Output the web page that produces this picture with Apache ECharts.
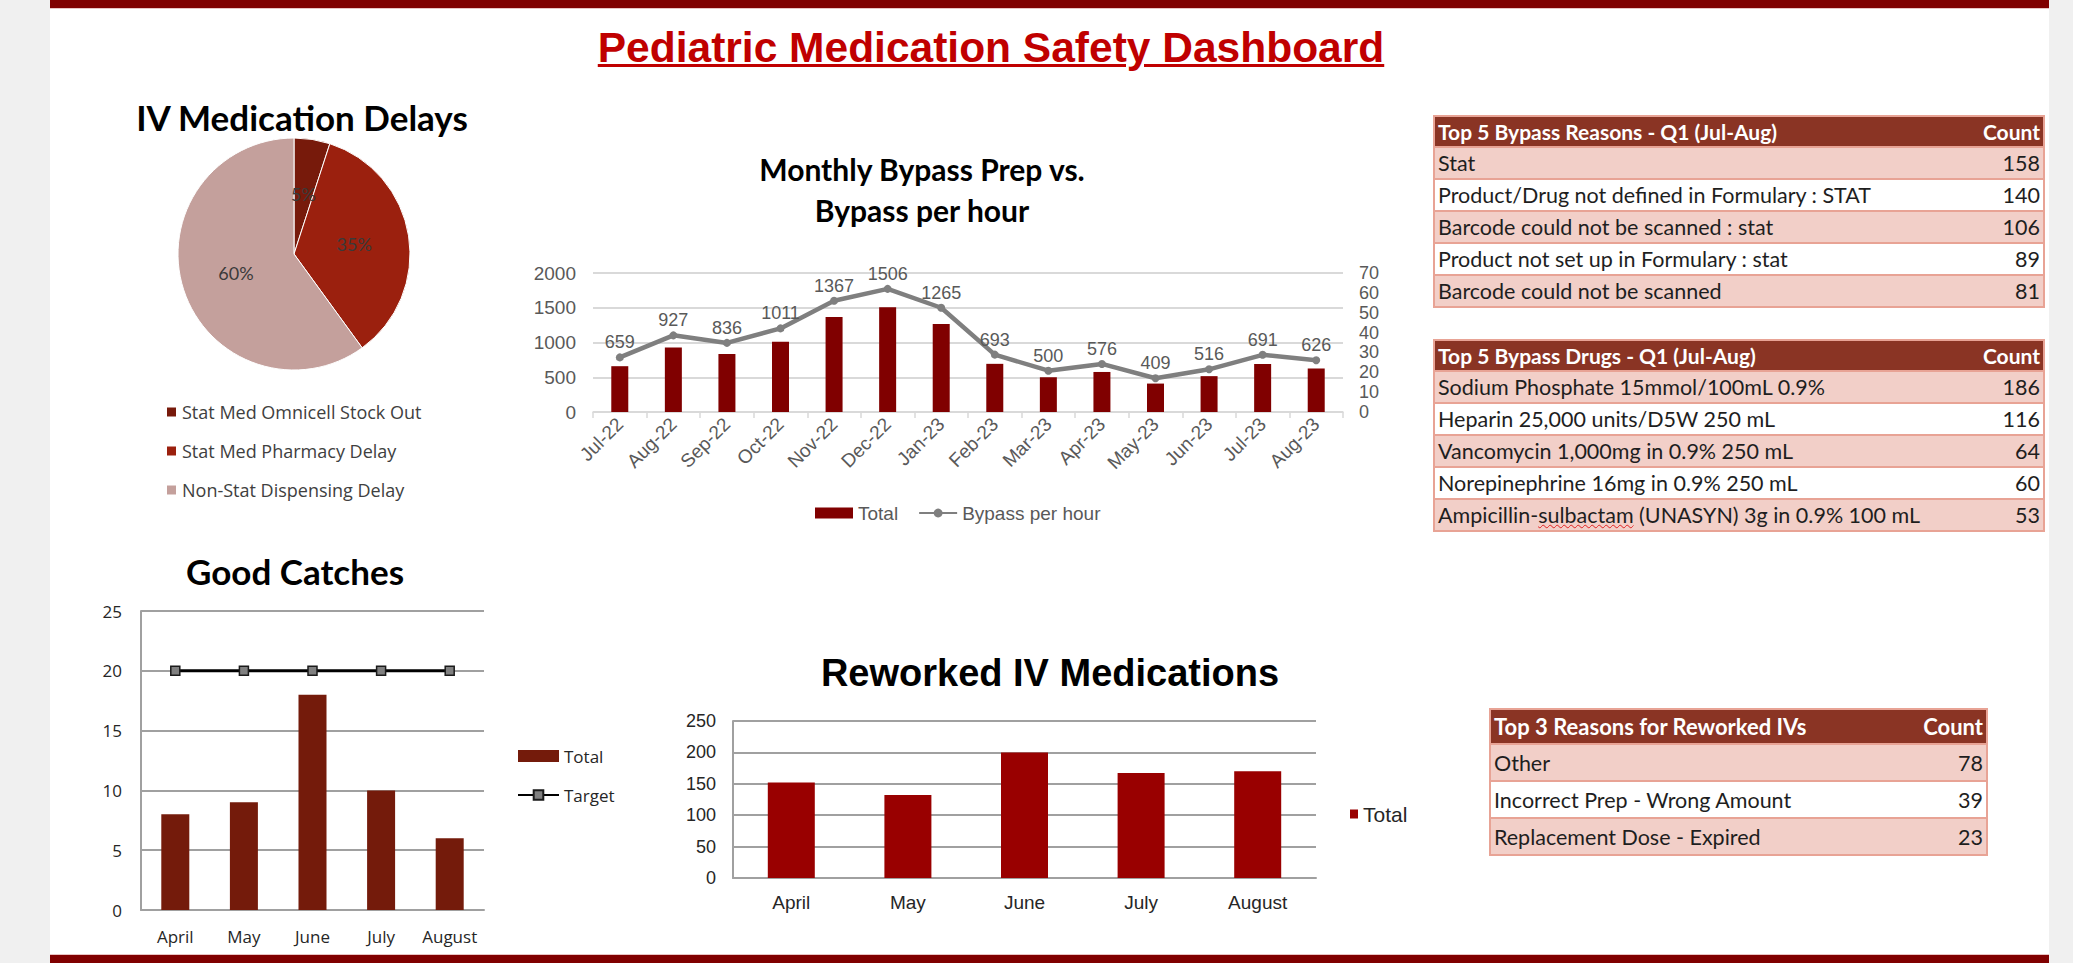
<!DOCTYPE html>
<html>
<head>
<meta charset="utf-8">
<title>Pediatric Medication Safety Dashboard</title>
<script src="https://cdn.jsdelivr.net/npm/echarts@6/dist/echarts.min.js"></script>
<style>
    html, body { margin: 0; padding: 0; }
    body {
        width: 2073px; height: 963px; overflow: hidden; position: relative;
        background: #f0f0f0; font-family: Lato, sans-serif;
    }
    .page { position: absolute; left: 50px; top: 0; width: 1999px; height: 963px; background: #fff; }
    .band { position: absolute; left: 50px; width: 1999px; height: 8px; background: #800000; }
    .band-top { top: 0; box-shadow: 0 1px 0 #e9c3c3; }
    .band-bottom { top: 955px; box-shadow: 0 -1px 0 #e9c3c3; }
    #chart { position: absolute; left: 0; top: 0; width: 2073px; height: 963px; }
    .main-title {
        position: absolute; left: 491px; top: 27px; width: 1000px; text-align: center;
        font: bold 42.5px 'Liberation Sans', Arial, sans-serif; line-height: 42px; color: #c00000;
        text-decoration: underline; text-decoration-thickness: 3px; text-underline-offset: 2px;
    }
    .tbl {
        position: absolute; border-collapse: collapse; table-layout: fixed;
        font-family: Lato, sans-serif; font-size: 21.5px; color: #1e1e1e;
        border: 2px solid #e8a395;
    }
    .tbl th {
        background: #8a3424; color: #fff; font-weight: bold; text-align: left;
        padding: 0 3px; white-space: nowrap; font-size: 21px;
    }
    .tbl td { padding: 0 3px; border-top: 2px solid #e8a395; white-space: nowrap; }
    .tbl tr.pink td { background: #f2cfc8; }
    .tbl .num { text-align: right; }
    #rework th { font-size: 22px; }
    .spell { text-decoration: underline wavy #e02020; text-decoration-thickness: 1px; }
</style>
</head>
<body>
<div class="page"></div>
<div class="band band-top"></div>
<div class="band band-bottom"></div>
<div id="chart"></div>
<div class="main-title">Pediatric Medication Safety Dashboard</div>
<table id="reasons" class="tbl" style="left:1433px; top:115px; width:612px;"></table>
<table id="drugs" class="tbl" style="left:1433px; top:339px; width:612px;"></table>
<table id="rework" class="tbl" style="left:1489px; top:708px; width:499px;"></table>

<script>
// IV medication delays (pie)
const delayCategories = ['Stat Med Omnicell Stock Out', 'Stat Med Pharmacy Delay', 'Non-Stat Dispensing Delay']
const delayShares = [5, 35, 60]

// monthly bypass prep vs bypass per hour
const bypassMonths = ['Jul-22', 'Aug-22', 'Sep-22', 'Oct-22', 'Nov-22', 'Dec-22', 'Jan-23',
    'Feb-23', 'Mar-23', 'Apr-23', 'May-23', 'Jun-23', 'Jul-23', 'Aug-23']
const bypassTotal = [659, 927, 836, 1011, 1367, 1506, 1265, 693, 500, 576, 409, 516, 691, 626]
const bypassPerHour = [27.5, 38.6, 34.8, 42.1, 56, 62, 52.5, 28.9, 20.8, 24.2, 17, 21.5, 28.8, 26.1]

// good catches
const catchMonths = ['April', 'May', 'June', 'July', 'August']
const catchTotal = [8, 9, 18, 10, 6]
const catchTarget = [20, 20, 20, 20, 20]

// reworked IV medications
const reworkMonths = ['April', 'May', 'June', 'July', 'August']
const reworkTotal = [152, 132, 200, 167, 170]

// tables
const bypassReasons = ['Stat', 'Product/Drug not defined in Formulary : STAT', 'Barcode could not be scanned : stat',
    'Product not set up in Formulary : stat', 'Barcode could not be scanned']
const bypassReasonCounts = [158, 140, 106, 89, 81]
const bypassDrugs = ['Sodium Phosphate 15mmol/100mL 0.9%', 'Heparin 25,000 units/D5W 250 mL',
    'Vancomycin 1,000mg in 0.9% 250 mL', 'Norepinephrine 16mg in 0.9% 250 mL',
    'Ampicillin-sulbactam (UNASYN) 3g in 0.9% 100 mL']
const bypassDrugCounts = [186, 116, 64, 60, 53]
const reworkReasons = ['Other', 'Incorrect Prep - Wrong Amount', 'Replacement Dose - Expired']
const reworkReasonCounts = [78, 39, 23]

function fillTable (id, title, names, counts, headH, rowH) {
    let html = '<colgroup><col><col style="width:80px"></colgroup>'
    html += '<tr style="height:' + headH + 'px"><th>' + title + '</th><th class="num">Count</th></tr>'
    names.forEach(function (name, i) {
        let label = name.replace('sulbactam', '<span class="spell">sulbactam</span>')
        html += '<tr class="' + (i % 2 === 0 ? 'pink' : '') + '" style="height:' + rowH + 'px"><td>' +
            label + '</td><td class="num">' + counts[i] + '</td></tr>'
    })
    document.getElementById(id).innerHTML = html
}
fillTable('reasons', 'Top 5 Bypass Reasons - Q1 (Jul-Aug)', bypassReasons, bypassReasonCounts, 31, 32)
fillTable('drugs', 'Top 5 Bypass Drugs - Q1 (Jul-Aug)', bypassDrugs, bypassDrugCounts, 31, 32)
fillTable('rework', 'Top 3 Reasons for Reworked IVs', reworkReasons, reworkReasonCounts, 35, 37)

const calibri = 'Lato'
const arial = 'Liberation Sans'
const pieColors = ['#771a0b', '#9b200e', '#c4a09c']

let chart = echarts.init(document.getElementById('chart'), null, { renderer: 'svg' })
chart.setOption({
    animation: false,
    backgroundColor: 'transparent',
    textStyle: { fontFamily: calibri },
    title: [
        {
            text: 'IV Medication Delays', left: 297, top: 92, textAlign: 'center', textVerticalAlign: 'top',
            textStyle: { fontFamily: calibri, fontWeight: 'bold', fontSize: 35, lineHeight: 40, color: '#000' }
        },
        {
            text: 'Monthly Bypass Prep vs.\nBypass per hour', left: 917, top: 143, textAlign: 'center', textVerticalAlign: 'top',
            textStyle: { fontFamily: calibri, fontWeight: 'bold', fontSize: 30, lineHeight: 41, color: '#000' }
        },
        {
            text: 'Good Catches', left: 290, top: 546, textAlign: 'center', textVerticalAlign: 'top',
            textStyle: { fontFamily: calibri, fontWeight: 'bold', fontSize: 35, lineHeight: 40, color: '#000' }
        },
        {
            text: 'Reworked IV Medications', left: 1045, top: 647, textAlign: 'center', textVerticalAlign: 'top',
            textStyle: { fontFamily: arial, fontWeight: 'bold', fontSize: 38, lineHeight: 42, color: '#000' }
        }
    ],
    legend: [
        {
            data: delayCategories.map(function (n) { return { name: n, icon: 'rect' } }),
            orient: 'vertical', left: 160, top: 397, itemWidth: 11, itemHeight: 11, itemGap: 19,
            selectedMode: false,
            textStyle: { fontFamily: 'Open Sans', fontSize: 18, lineHeight: 20, color: '#404040' }
        },
        {
            data: [{ name: 'Total', icon: 'rect' }, { name: 'Bypass per hour' }],
            left: 810, top: 498, itemWidth: 38, itemHeight: 11, itemGap: 20, selectedMode: false,
            textStyle: { fontFamily: arial, fontSize: 19, lineHeight: 20, color: '#595959' }
        },
        {
            data: [{ name: 'Good Catches Total', icon: 'rect' }, { name: 'Target' }],
            orient: 'vertical', left: 512, top: 741, itemWidth: 41, itemHeight: 12, itemGap: 19, selectedMode: false,
            formatter: function (name) { return name === 'Target' ? 'Target' : 'Total' },
            textStyle: { fontFamily: 'Open Sans', fontSize: 17, lineHeight: 20, color: '#262626' }
        },
        {
            data: [{ name: 'Reworked Total', icon: 'rect' }],
            left: 1345, top: 798, itemWidth: 8, itemHeight: 9, selectedMode: false,
            formatter: function () { return 'Total' },
            textStyle: { fontFamily: arial, fontSize: 21, lineHeight: 22, color: '#262626' }
        }
    ],
    grid: [
        { left: 593, top: 273, width: 750, height: 139 },
        { left: 141, top: 611, width: 343, height: 299 },
        { left: 733, top: 721, width: 583, height: 157 }
    ],
    xAxis: [
        {
            gridIndex: 0, type: 'category', data: bypassMonths,
            axisLine: { lineStyle: { color: '#d9d9d9', width: 1.5 } },
            axisTick: { show: true, length: 6, lineStyle: { color: '#d9d9d9', width: 1.5 } },
            axisLabel: { interval: 0, rotate: 45, margin: 9, color: '#595959', fontFamily: arial, fontSize: 19 }
        },
        {
            gridIndex: 1, type: 'category', data: catchMonths,
            axisLine: { lineStyle: { color: '#a0a0a0', width: 2 } },
            axisTick: { show: false },
            axisLabel: { interval: 0, margin: 18, color: '#262626', fontFamily: 'Open Sans', fontSize: 17 }
        },
        {
            gridIndex: 2, type: 'category', data: reworkMonths,
            axisLine: { lineStyle: { color: '#a0a0a0', width: 2 } },
            axisTick: { show: false },
            axisLabel: { interval: 0, margin: 15, color: '#262626', fontFamily: arial, fontSize: 19 }
        }
    ],
    yAxis: [
        {
            gridIndex: 0, type: 'value', min: 0, max: 2000, interval: 500,
            axisLine: { show: false }, axisTick: { show: false },
            splitLine: { lineStyle: { color: '#d9d9d9', width: 2 } },
            axisLabel: {
                margin: 17, color: '#595959', fontFamily: arial, fontSize: 19,
                formatter: function (v) { return String(v) }
            }
        },
        {
            gridIndex: 0, type: 'value', position: 'right', min: 0, max: 70, interval: 10,
            axisLine: { show: false }, axisTick: { show: false }, splitLine: { show: false },
            axisLabel: { margin: 16, color: '#595959', fontFamily: arial, fontSize: 18 }
        },
        {
            gridIndex: 1, type: 'value', min: 0, max: 25, interval: 5,
            axisLine: { show: true, lineStyle: { color: '#a0a0a0', width: 2 } }, axisTick: { show: false },
            splitLine: { lineStyle: { color: '#a0a0a0', width: 2 } },
            axisLabel: { margin: 19, color: '#262626', fontFamily: 'Open Sans', fontSize: 17 }
        },
        {
            gridIndex: 2, type: 'value', min: 0, max: 250, interval: 50,
            axisLine: { show: true, lineStyle: { color: '#a0a0a0', width: 2 } }, axisTick: { show: false },
            splitLine: { lineStyle: { color: '#a0a0a0', width: 2 } },
            axisLabel: { margin: 17, color: '#262626', fontFamily: arial, fontSize: 18 }
        }
    ],
    series: [
        {
            name: 'IV Medication Delays', type: 'pie',
            center: [294, 254], radius: 116, startAngle: 90, clockwise: true,
            data: delayCategories.map(function (n, i) {
                return { name: n, value: delayShares[i], itemStyle: { color: pieColors[i] } }
            }),
            label: { position: 'inner', formatter: '{d}%', color: '#3a3a3a', fontFamily: calibri, fontSize: 18 },
            labelLine: { show: false },
            itemStyle: { borderColor: '#fff', borderWidth: 1 },
            emphasis: { disabled: true }
        },
        {
            name: 'Total', type: 'bar', xAxisIndex: 0, yAxisIndex: 0,
            data: bypassTotal, barWidth: 17,
            itemStyle: { color: '#800000' }
        },
        {
            name: 'Bypass per hour', type: 'line', xAxisIndex: 0, yAxisIndex: 1,
            data: bypassPerHour, symbol: 'circle', symbolSize: 8,
            lineStyle: { color: '#7f7f7f', width: 4.5 },
            itemStyle: { color: '#7f7f7f' },
            label: {
                show: true, position: 'top', distance: 2, color: '#595959', fontFamily: arial, fontSize: 18,
                formatter: function (p) { return bypassTotal[p.dataIndex] }
            }
        },
        {
            name: 'Good Catches Total', type: 'bar', xAxisIndex: 1, yAxisIndex: 2,
            data: catchTotal, barWidth: 28,
            itemStyle: { color: '#741b0b' }
        },
        {
            name: 'Target', type: 'line', xAxisIndex: 1, yAxisIndex: 2,
            data: catchTarget, symbol: 'rect', symbolSize: 9, z: 5,
            lineStyle: { color: '#000', width: 3 },
            itemStyle: { color: '#808080', borderColor: '#1a1a1a', borderWidth: 1.5 }
        },
        {
            name: 'Reworked Total', type: 'bar', xAxisIndex: 2, yAxisIndex: 3,
            data: reworkTotal, barWidth: 47,
            itemStyle: { color: '#990000' }
        }
    ]
})
</script>
</body>
</html>
